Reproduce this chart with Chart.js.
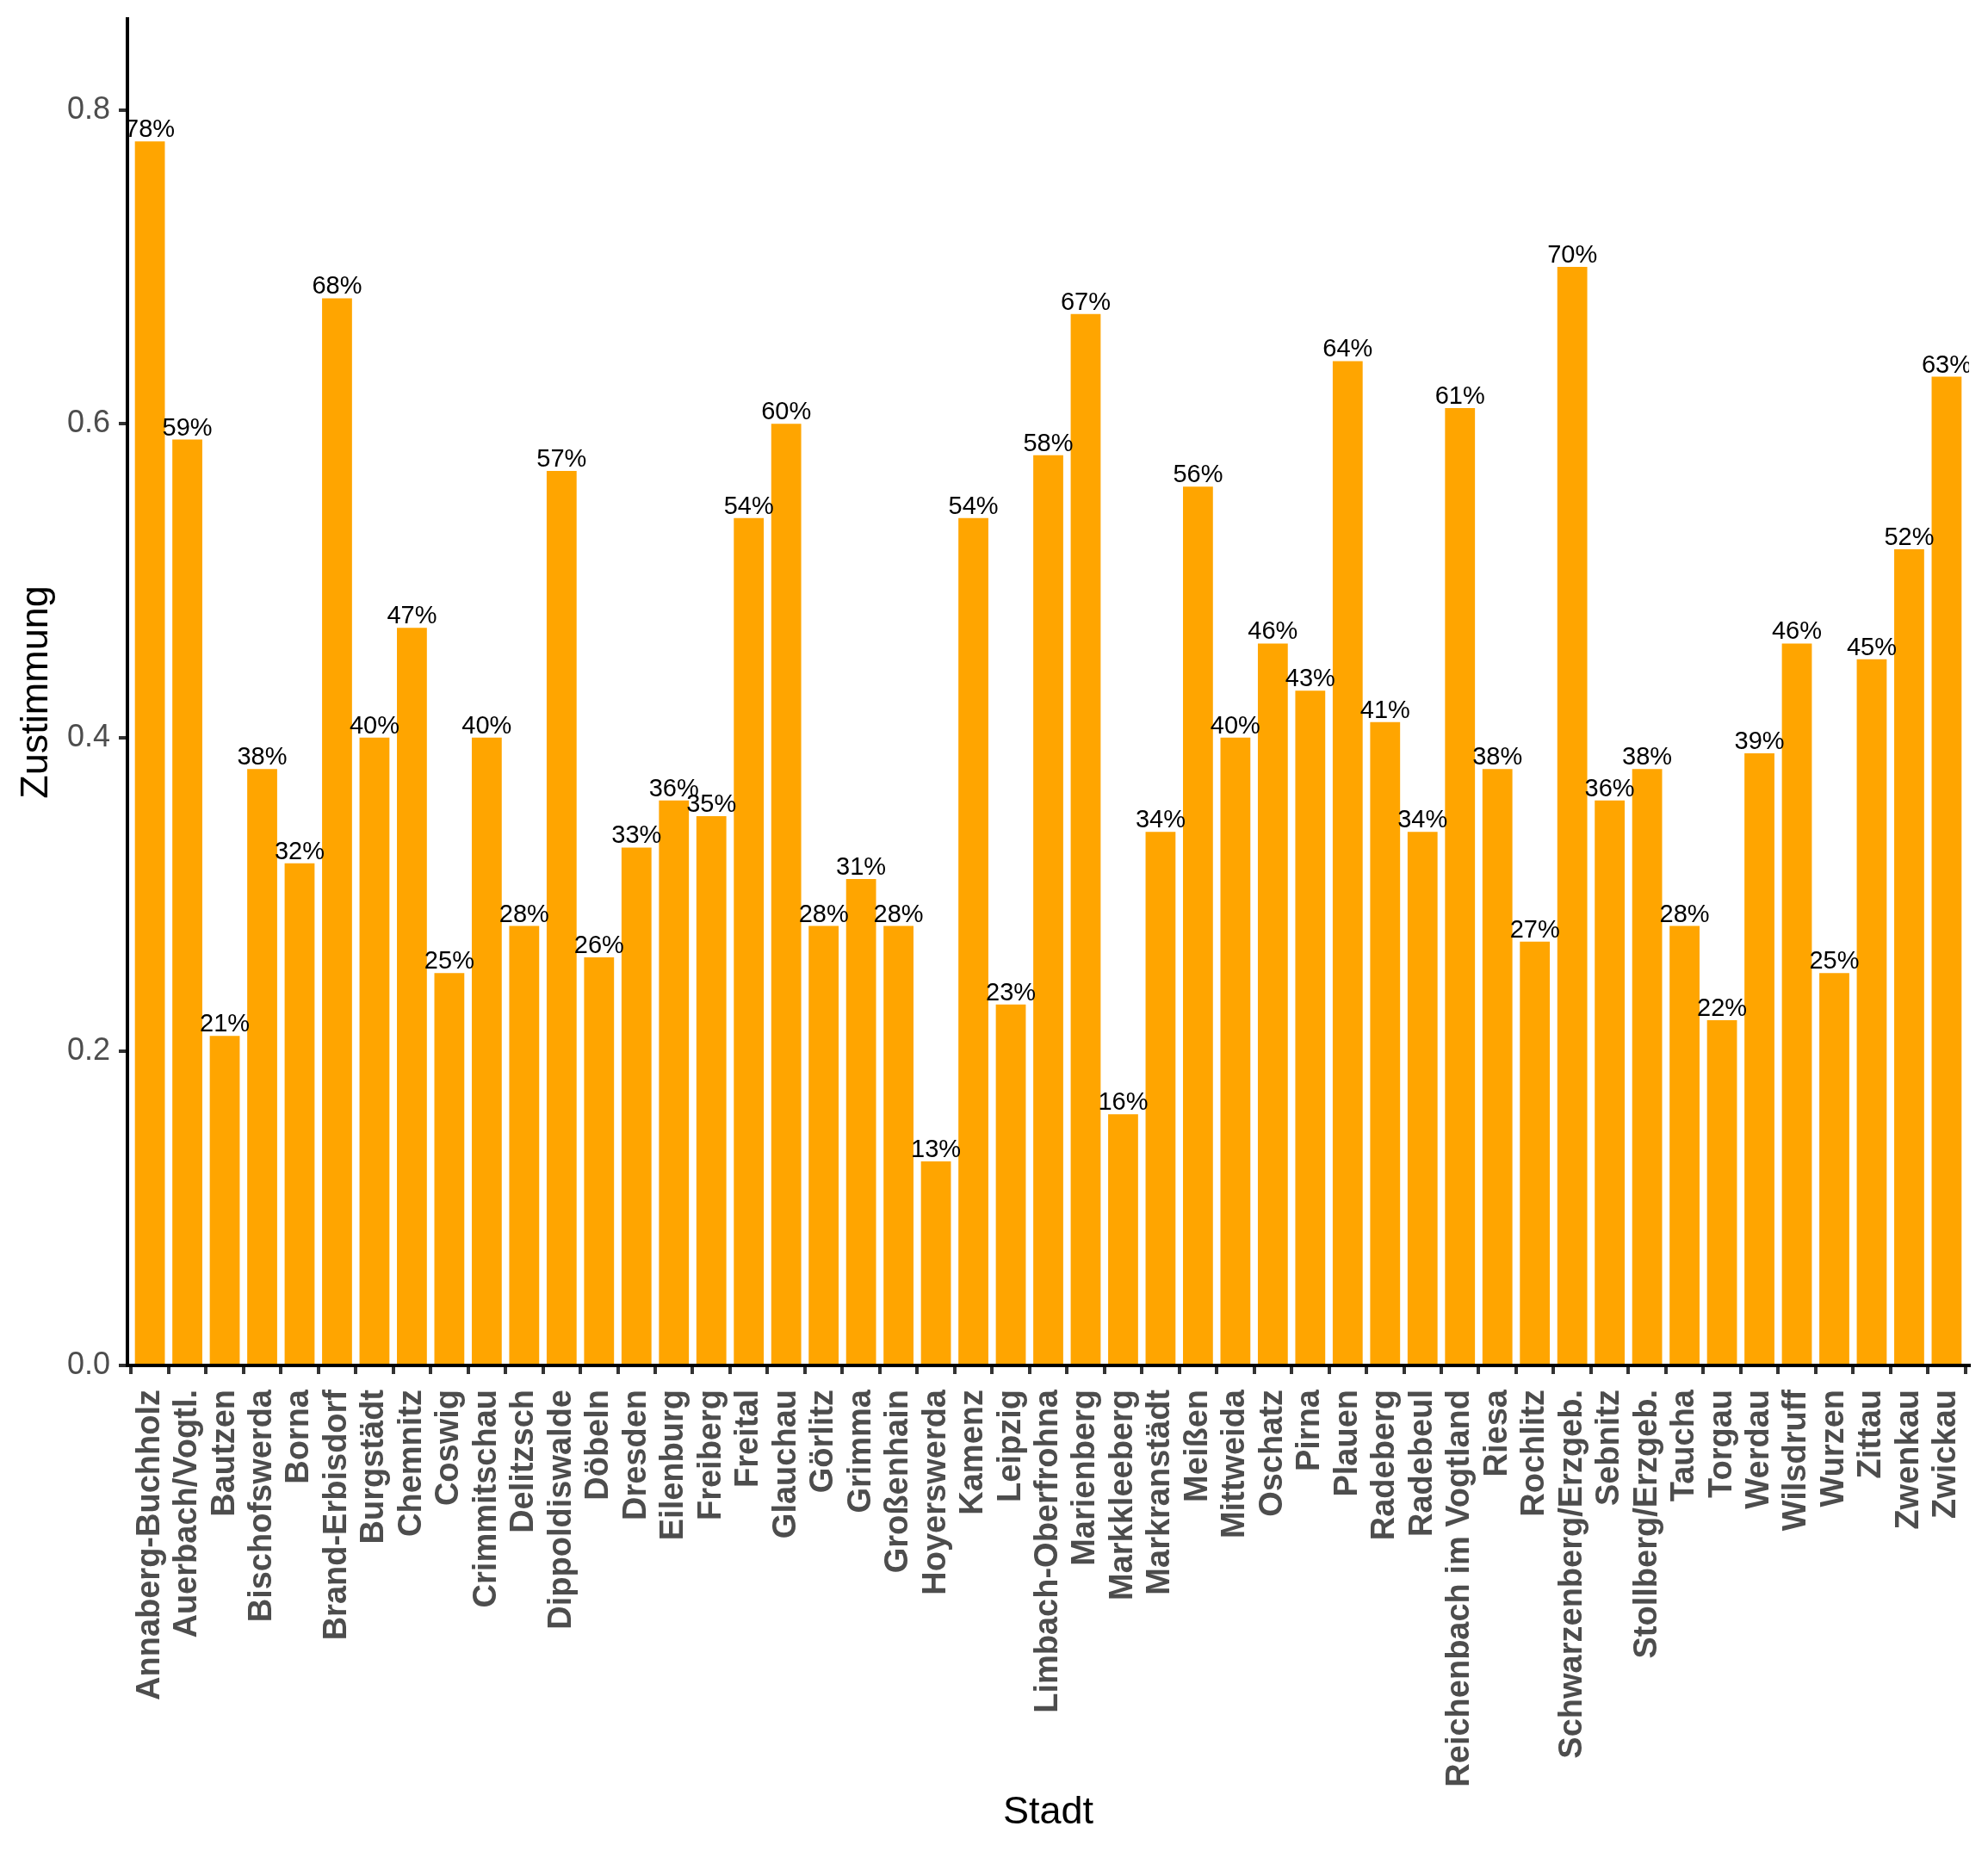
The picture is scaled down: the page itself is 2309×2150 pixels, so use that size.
<!DOCTYPE html>
<html>
<head>
<meta charset="utf-8">
<script src="https://cdn.jsdelivr.net/npm/chart.js@4"></script>
<style>
  html, body { margin: 0; padding: 0; background: #ffffff; }
  #wrap { width: 2309px; height: 2150px; }
</style>
</head>
<body>
<div id="wrap"><canvas id="c" width="2309" height="2150"></canvas></div>
<script>
const categories = [
  "Annaberg-Buchholz", "Auerbach/Vogtl.", "Bautzen", "Bischofswerda", "Borna",
  "Brand-Erbisdorf", "Burgstädt", "Chemnitz", "Coswig", "Crimmitschau",
  "Delitzsch", "Dippoldiswalde", "Döbeln", "Dresden", "Eilenburg",
  "Freiberg", "Freital", "Glauchau", "Görlitz", "Grimma",
  "Großenhain", "Hoyerswerda", "Kamenz", "Leipzig", "Limbach-Oberfrohna",
  "Marienberg", "Markkleeberg", "Markranstädt", "Meißen", "Mittweida",
  "Oschatz", "Pirna", "Plauen", "Radeberg", "Radebeul",
  "Reichenbach im Vogtland", "Riesa", "Rochlitz", "Schwarzenberg/Erzgeb.", "Sebnitz",
  "Stollberg/Erzgeb.", "Taucha", "Torgau", "Werdau", "Wilsdruff",
  "Wurzen", "Zittau", "Zwenkau", "Zwickau"
];

const zustimmung = [
  0.78, 0.59, 0.21, 0.38, 0.32,
  0.68, 0.40, 0.47, 0.25, 0.40,
  0.28, 0.57, 0.26, 0.33, 0.36,
  0.35, 0.54, 0.60, 0.28, 0.31,
  0.28, 0.13, 0.54, 0.23, 0.58,
  0.67, 0.16, 0.34, 0.56, 0.40,
  0.46, 0.43, 0.64, 0.41, 0.34,
  0.61, 0.38, 0.27, 0.70, 0.36,
  0.38, 0.28, 0.22, 0.39, 0.46,
  0.25, 0.45, 0.52, 0.63
];

const yTickValues = [0, 0.2, 0.4, 0.6, 0.8];
const yTickLabels = ["0.0", "0.2", "0.4", "0.6", "0.8"];

const xTitle = "Stadt";
const yTitle = "Zustimmung";

const FONT = "'Liberation Sans', Arial, Helvetica, sans-serif";

const valueLabels = {
  id: 'valueLabels',
  afterDatasetsDraw(chart) {
    const ctx = chart.ctx;
    const area = chart.chartArea;
    const meta = chart.getDatasetMeta(0);
    ctx.save();
    ctx.beginPath();
    ctx.rect(area.left, area.top, area.right - area.left, area.bottom - area.top);
    ctx.clip();
    ctx.font = "29px " + FONT;
    ctx.fillStyle = "#000000";
    ctx.textAlign = "center";
    ctx.textBaseline = "alphabetic";
    meta.data.forEach((bar, i) => {
      const txt = Math.round(zustimmung[i] * 100) + "%";
      ctx.fillText(txt, bar.x, bar.y - 5);
    });
    ctx.restore();
  }
};

const data = {
  datasets: [{
    label: yTitle,
    data: zustimmung.map((v, i) => ({ x: i, y: v })),
    backgroundColor: "#FFA500",
    borderWidth: 0,
    barPercentage: 0.8,
    categoryPercentage: 1.0
  }]
};

new Chart(document.getElementById('c'), {
  type: 'bar',
  data: data,
  plugins: [valueLabels],
  options: {
    responsive: false,
    animation: false,
    devicePixelRatio: 1,
    layout: { padding: { left: 0, right: 22, top: 22, bottom: 0 } },
    plugins: {
      legend: { display: false },
      tooltip: { enabled: false }
    },
    scales: {
      x: {
        type: 'linear',
        min: -0.6,
        max: categories.length - 1 + 0.6,
        offset: false,
        z: 1,
        border: { display: true, color: '#000000', width: 4 },
        grid: { display: true, drawOnChartArea: false, drawTicks: true, tickLength: 10, color: '#333333', lineWidth: 4 },
        afterBuildTicks(scale) {
          scale.ticks = categories.map((_, i) => ({ value: i }));
        },
        afterFit(scale) {
          scale.height = 2150 - 1586;
          scale.paddingLeft = 0;
          scale.paddingRight = 0;
        },
        ticks: {
          autoSkip: false,
          minRotation: 90,
          maxRotation: 90,
          padding: 18,
          color: '#4d4d4d',
          font: { family: FONT, size: 38, weight: 'bold' },
          callback: (value) => categories[value]
        },
        title: {
          display: true,
          text: xTitle,
          color: '#000000',
          font: { family: FONT, size: 45 },
          padding: { top: 0, bottom: 17 }
        }
      },
      y: {
        min: 0,
        max: 0.858,
        z: 1,
        border: { display: true, color: '#000000', width: 4 },
        grid: { display: true, drawOnChartArea: false, drawTicks: true, tickLength: 10, color: '#333333', lineWidth: 4 },
        afterBuildTicks(scale) {
          scale.ticks = yTickValues.map(v => ({ value: v }));
        },
        afterFit(scale) {
          scale.width = 148;
          scale.paddingTop = 0;
          scale.paddingBottom = 0;
        },
        ticks: {
          padding: 10,
          color: '#4d4d4d',
          font: { family: FONT, size: 36 },
          callback: (value) => {
            const idx = yTickValues.findIndex(t => Math.abs(t - value) < 1e-9);
            return idx >= 0 ? yTickLabels[idx] : '';
          }
        },
        title: {
          display: true,
          text: yTitle,
          color: '#000000',
          font: { family: FONT, size: 45 },
          padding: { top: 16, bottom: 0 }
        }
      }
    }
  }
});
</script>
</body>
</html>
